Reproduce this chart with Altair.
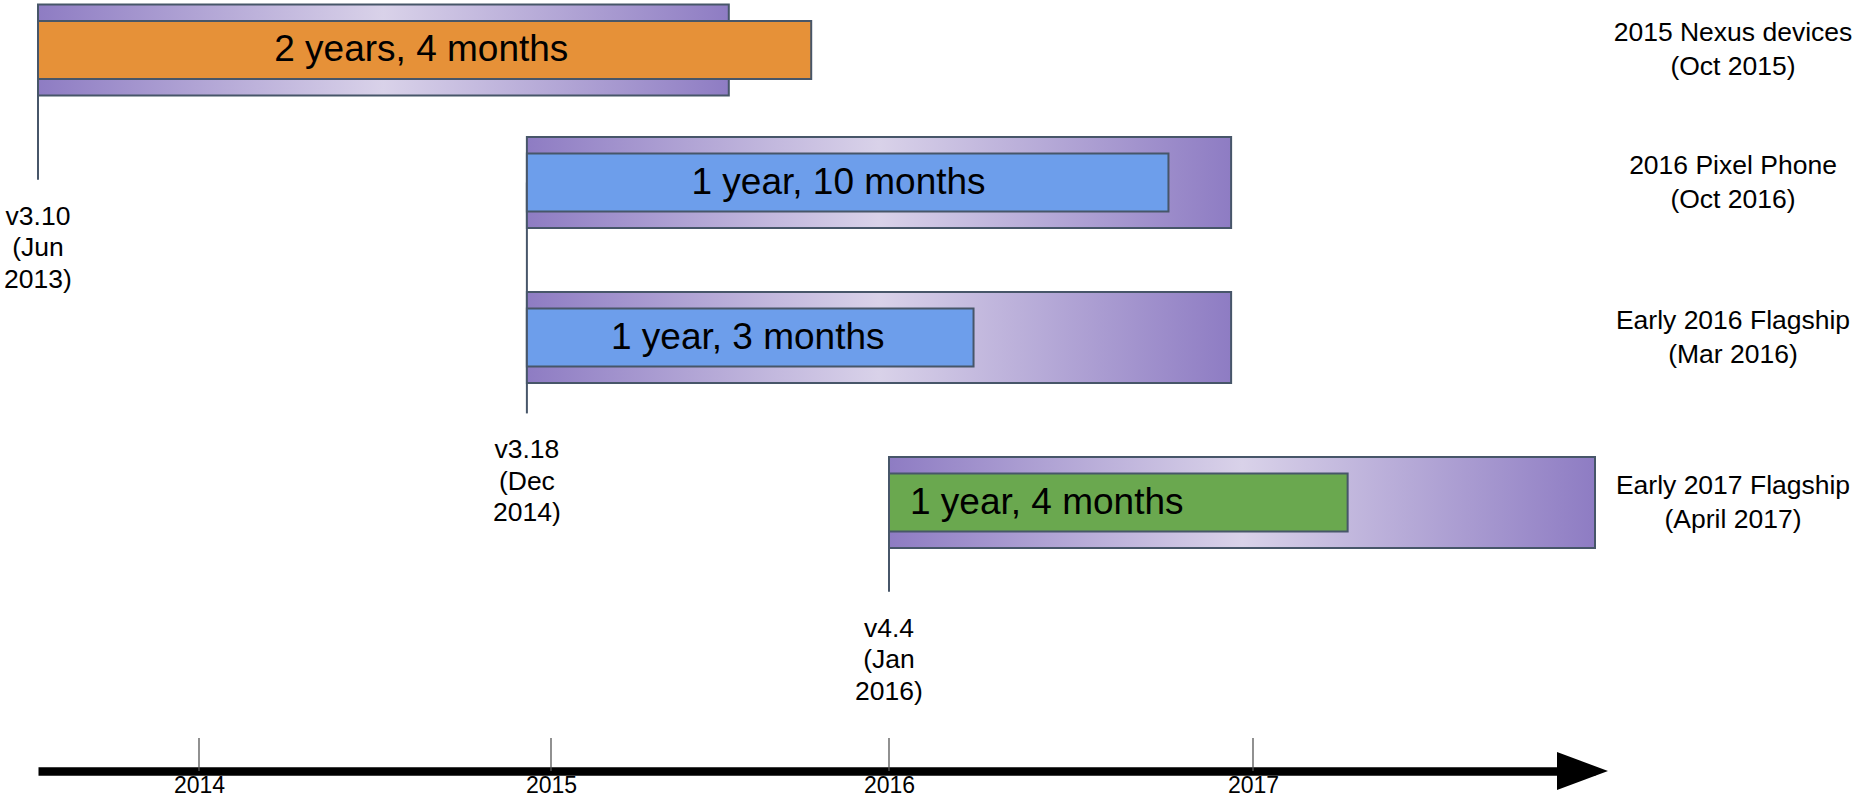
import altair as alt
import pandas as pd

# ---------------- data ----------------
DEVICES = ["2015 Nexus devices", "2016 Pixel Phone", "Early 2016 Flagship", "Early 2017 Flagship"]
DEVICE_LAUNCH_TEXT = ["(Oct 2015)", "(Oct 2016)", "(Mar 2016)", "(April 2017)"]
KERNEL = ["v3.10", "v3.18", "v3.18", "v4.4"]
KERNEL_RELEASE = ["2013-06-30", "2014-12-07", "2014-12-07", "2016-01-01"]
LTS_END = ["2015-07-12", "2016-12-10", "2016-12-10", "2018-01-01"]
DEVICE_LAUNCH = ["2015-10-09", "2016-10-08", "2016-03-26", "2017-04-12"]
GAP_TEXT = ["2 years, 4 months", "1 year, 10 months", "1 year, 3 months", "1 year, 4 months"]

RELEASES = ["v3.10", "v3.18", "v4.4"]
RELEASE_DATES = ["2013-06-30", "2014-12-07", "2016-01-01"]
RELEASE_MONTH_TEXT = ["(Jun\n2013)", "(Dec\n2014)", "(Jan\n2016)"]
RELEASE_FIRST_ROW = [0, 1, 3]

YEAR_TICKS = [2014, 2015, 2016, 2017]

# ---------------- layout (hand-drawn diagram, not to scale) ----------------
X_BREAK_PIXELS = [38, 199, 551, 889, 1253, 1595]
ROW_PIXELS = [45.5, 182.5, 337.5, 508]
MARKER_END_ROW = [0.98, 2.46, 3.54]

ORANGE, BLUE, GREEN = "#E69138", "#6D9EEB", "#6AA84F"
PURPLE_DARK, PURPLE_LIGHT = "#8E7CC3", "#D9D2E9"
EDGE = "#475669"
FONT = "Liberation Sans, Arial, Helvetica, sans-serif"


def ms(s):
    return int(pd.Timestamp(s, tz="UTC").value // 10**6)


rows = pd.DataFrame({
    "row": list(range(len(DEVICES))),
    "device": DEVICES,
    "device_text": [f"{d}\n{t}" for d, t in zip(DEVICES, DEVICE_LAUNCH_TEXT)],
    "kernel": KERNEL,
    "release": [ms(s) for s in KERNEL_RELEASE],
    "lts_end": [ms(s) for s in LTS_END],
    "launch": [ms(s) for s in DEVICE_LAUNCH],
    "gap": GAP_TEXT,
})

releases = pd.DataFrame({
    "version": RELEASES,
    "date": [ms(s) for s in RELEASE_DATES],
    "label": [f"{v}\n{m}" for v, m in zip(RELEASES, RELEASE_MONTH_TEXT)],
    "row_first": RELEASE_FIRST_ROW,
    "row_end": MARKER_END_ROW,
})

tick_ms = [ms(f"{y}-01-01") for y in YEAR_TICKS]
ticks = pd.DataFrame({"tick": tick_ms})

x_domain = [ms(KERNEL_RELEASE[0])] + tick_ms + [ms(LTS_END[-1])]
x_scale = alt.Scale(type="linear", domain=x_domain, range=X_BREAK_PIXELS, zero=False, nice=False)
y_scale = alt.Scale(type="linear", domain=list(range(len(DEVICES))), range=ROW_PIXELS, zero=False, nice=False)

bottom_axis = alt.Axis(
    values=tick_ms, labelExpr="utcFormat(datum.value, '%Y')",
    title=None, grid=False, ticks=False, tickSize=0,
    domainColor="black", domainWidth=8.5, labelFontSize=23, labelFont=FONT,
    labelColor="black", labelPadding=3, labelFlush=False, labelOverlap=False,
)


def X(field=None, **kw):
    if field is None:
        return alt.X(type="quantitative", scale=x_scale, axis=bottom_axis, **kw)
    return alt.X(field, type="quantitative", scale=x_scale, axis=bottom_axis, **kw)


def Y(field):
    return alt.Y(field, type="quantitative", scale=y_scale, axis=None)


gradient = alt.LinearGradient(
    gradient="linear",
    stops=[alt.GradientStop(color=PURPLE_DARK, offset=0),
           alt.GradientStop(color=PURPLE_LIGHT, offset=0.5),
           alt.GradientStop(color=PURPLE_DARK, offset=1)],
    x1=0, x2=1, y1=0, y2=0,
)

connectors = alt.Chart(releases).mark_rule(color=EDGE, strokeWidth=2).encode(
    x=X("date"), y=Y("row_first"), y2="row_end",
)

lts_bars = alt.Chart(rows).mark_bar(height=91, color=gradient, stroke=EDGE, strokeWidth=2).encode(
    x=X("release"), x2="lts_end", y=Y("row"),
)

launch_bars = alt.Chart(rows).mark_bar(height=58, stroke=EDGE, strokeWidth=2).encode(
    x=X("release"), x2="launch", y=Y("row"),
    color=alt.Color("device:N", scale=alt.Scale(domain=DEVICES, range=[ORANGE, BLUE, BLUE, GREEN]), legend=None),
)

gap_centered = alt.Chart(rows).transform_filter("datum.row < 3").transform_calculate(
    mid="(datum.release + datum.launch) / 2"
).mark_text(fontSize=37, font=FONT, color="black", align="center", baseline="middle").encode(
    x=X("mid"), y=Y("row"), text="gap:N",
)

gap_left = alt.Chart(rows).transform_filter("datum.row == 3").mark_text(
    fontSize=37, font=FONT, color="black", align="left", baseline="middle", dx=21
).encode(
    x=X("release"), y=Y("row"), text="gap:N",
)

release_labels = alt.Chart(releases).mark_text(
    fontSize=26.5, font=FONT, color="black", align="center", baseline="middle",
    lineBreak="\n", lineHeight=31.5, dy=37,
).encode(
    x=X("date"), y=Y("row_end"), text="label:N",
)

device_labels = alt.Chart(rows).mark_text(
    fontSize=26.5, font=FONT, color="black", align="center", baseline="middle",
    lineBreak="\n", lineHeight=34, x="width", dx=133, dy=-17,
).encode(
    y=Y("row"), text="device_text:N",
)

tick_rules = alt.Chart(ticks).mark_rule(
    color="#555555", strokeWidth=1.3, y=alt.ExprRef(expr="height - 33"), y2="height"
).encode(
    x=X("tick"),
)

arrow_head = alt.Chart(ticks).transform_aggregate(n="count()").mark_point(
    shape="M -1.49 -0.745 L 0.51 0 L -1.49 0.745 Z", size=2601, filled=True,
    color="black", opacity=1, y="height",
).encode(
    x=X(datum=ms(LTS_END[-1])),
)

chart = alt.layer(
    connectors, lts_bars, launch_bars, gap_centered, gap_left,
    release_labels, device_labels, tick_rules, arrow_head,
).properties(
    width=1600, height=771,
    padding={"left": 0, "top": 0, "right": 255, "bottom": 29},
    autosize=alt.AutoSizeParams(type="none"),
    background="white",
).configure_view(stroke=None)

chart.save("out.html", embed_options={"renderer": "svg", "actions": False})
